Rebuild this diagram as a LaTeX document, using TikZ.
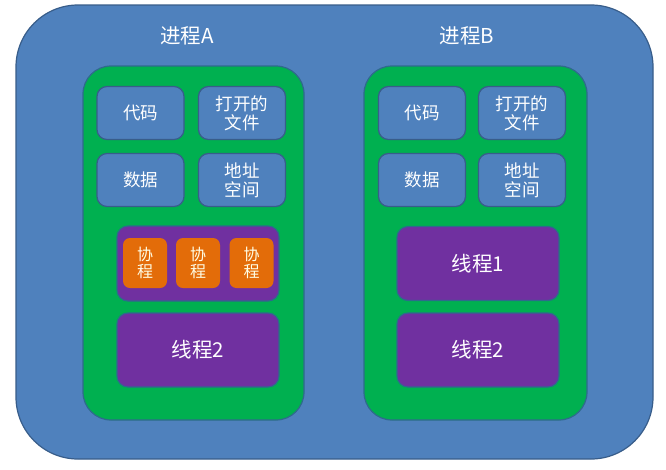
\documentclass[tikz,border=0pt]{standalone}
\usepackage{fontspec}
\setmainfont{Noto Sans CJK SC}
\definecolor{obl}{HTML}{4F81BD}
\definecolor{obd}{HTML}{385D8A}
\definecolor{ogr}{HTML}{00B050}
\definecolor{opu}{HTML}{7030A0}
\definecolor{oor}{HTML}{E36C09}
\definecolor{oedge}{HTML}{2F6A8C}
\tikzset{
  box/.style={draw=obd,line width=1.2pt,inner sep=0pt,text=white,align=center,font=\fontsize{17.5}{19}\selectfont},
  outerbox/.style={box,fill=obl,rounded corners=62pt},
  procbox/.style={box,fill=ogr,draw=oedge,rounded corners=28pt},
  resbox/.style={box,fill=obl,rounded corners=10pt,minimum width=87pt,minimum height=53pt},
  thbox/.style={box,fill=opu,draw=oedge,rounded corners=11pt,minimum width=162pt,minimum height=74pt,font=\fontsize{20.5}{22}\selectfont},
  cobox/.style={box,fill=oor,draw=none,rounded corners=7pt,minimum width=44pt,minimum height=50pt,font=\fontsize{16}{17}\selectfont,text=white!90!yellow},
  title/.style={text=white,font=\fontsize{20.5}{22}\selectfont}
}
\begin{document}
\begin{tikzpicture}[x=1pt,y=-1pt]
\useasboundingbox (0,0) rectangle (666,469);
\fill[white] (0,0) rectangle (666,469);
\node[outerbox,minimum width=637pt,minimum height=454pt] (outer) at (334.5,232) {};
\node[title] (tA) at (187,36) {进程A};
\node[title] (tB) at (467,36) {进程B};
% process A
\node[procbox,minimum width=221pt,minimum height=354pt] (pA) at (193.5,243) {};
\node[resbox] (codeA) at (140.5,113) {代码};
\node[resbox] (fileA) at (242,113) {打开的\\文件};
\node[resbox] (dataA) at (140.5,180) {数据};
\node[resbox] (addrA) at (242,180) {地址\\空间};
\node[thbox,minimum height=75pt] (th1A) at (198,263.5) {};
\node[cobox] (co1) at (145,263) {协\\程};
\node[cobox] (co2) at (198,263) {协\\程};
\node[cobox] (co3) at (251.5,263) {协\\程};
\node[thbox] (th2A) at (198,350) {线程2};
% process B
\node[procbox,minimum width=223pt,minimum height=354pt] (pB) at (475.5,243) {};
\node[resbox] (codeB) at (422,113) {代码};
\node[resbox] (fileB) at (522,113) {打开的\\文件};
\node[resbox] (dataB) at (422,180) {数据};
\node[resbox] (addrB) at (522,180) {地址\\空间};
\node[thbox] (th1B) at (478,263.5) {线程1};
\node[thbox] (th2B) at (478,350) {线程2};
\end{tikzpicture}
\end{document}
